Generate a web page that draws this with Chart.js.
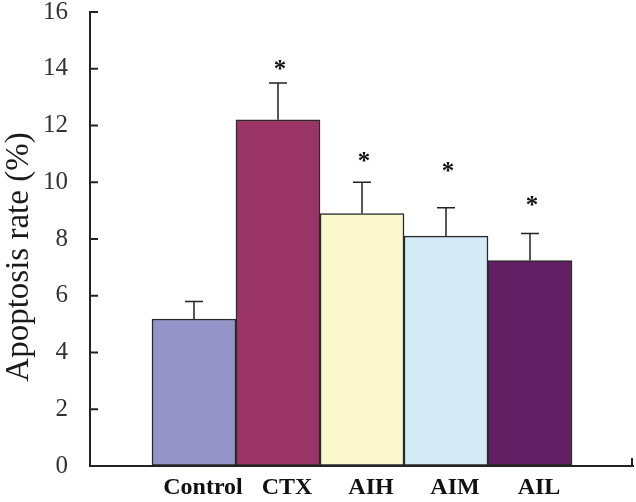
<!DOCTYPE html>
<html>
<head>
<meta charset="utf-8">
<script src="https://cdn.jsdelivr.net/npm/chart.js@4.4.1/dist/chart.umd.min.js"></script>
<style>
  html, body { margin: 0; padding: 0; background: #fff; }
</style>
</head>
<body>
<canvas id="myChart" width="636" height="502"></canvas>
<script>
// values
const groups = ['Control', 'CTX', 'AIH', 'AIM', 'AIL'];
const rates = [5.18, 12.2, 8.9, 8.1, 7.24];
const sd = [0.62, 1.3, 1.1, 1.0, 0.95];
const starAt = [null, 14.13, 10.89, 10.54, 9.34];
const yTicks = [0, 2, 4, 6, 8, 10, 12, 14, 16];
const yTitle = 'Apoptosis rate (%)';
const barColors = ['#9494c8', '#9a3366', '#faf8cc', '#d4eaf5', '#631f63'];

const ctx = document.getElementById('myChart').getContext('2d');

// error bars, inward ticks, stars and the y title
const extras = {
  id: 'extras',
  afterDatasetsDraw(chart) {
    const c = chart.ctx;
    const x = chart.scales.x;
    const y = chart.scales.y;
    const area = chart.chartArea;
    c.save();
    c.strokeStyle = '#222';
    c.lineWidth = 1.5;
    rates.forEach((v, i) => {
      const cx = x.getPixelForValue(i);
      const y0 = y.getPixelForValue(v);
      const y1 = y.getPixelForValue(v + sd[i]);
      c.beginPath();
      c.moveTo(cx, y0);
      c.lineTo(cx, y1);
      c.moveTo(cx - 9, y1);
      c.lineTo(cx + 9, y1);
      c.stroke();
    });
    c.lineWidth = 2;
    yTicks.forEach(t => {
      const py = y.getPixelForValue(t);
      c.beginPath();
      c.moveTo(area.left, py);
      c.lineTo(area.left + 8, py);
      c.stroke();
    });
    c.beginPath();
    c.moveTo(area.right - 1, area.bottom);
    c.lineTo(area.right - 1, area.bottom - 8);
    c.stroke();

    c.fillStyle = '#111';
    c.font = 'bold 25px "Liberation Serif"';
    c.textAlign = 'center';
    c.textBaseline = 'alphabetic';
    const m = c.measureText('*');
    starAt.forEach((s, i) => {
      if (s == null) return;
      const py = y.getPixelForValue(s);
      const base = py - (m.actualBoundingBoxDescent - m.actualBoundingBoxAscent) / 2;
      c.fillText('*', x.getPixelForValue(i) + 2, base);
    });

    // axis title sits a bit below the middle in the original
    c.translate(19, 257);
    c.rotate(-Math.PI / 2);
    c.fillStyle = '#1a1a1a';
    c.font = '33px "Liberation Serif"';
    c.textBaseline = 'middle';
    c.fillText(yTitle, 0, 0);
    c.restore();
  }
};

const data = {
  datasets: [{
    data: rates.map((v, i) => ({ x: i, y: v })),
    backgroundColor: barColors,
    borderColor: '#2a2a2a',
    borderWidth: 1.5,
    borderSkipped: false,
    barThickness: 84
  }]
};

const config = {
  type: 'bar',
  data: data,
  options: {
    responsive: false,
    animation: false,
    layout: { padding: { top: 12, right: 3, left: 0, bottom: 0 } },
    plugins: { legend: { display: false }, tooltip: { enabled: false } },
    scales: {
      x: {
        type: 'linear',
        offset: false,
        min: -1.238,
        max: 5.226,
        afterBuildTicks: s => { s.ticks = groups.map((g, i) => ({ value: i })); },
        afterFit: s => { s.height = 36; },
        grid: { display: false, drawTicks: false },
        border: { display: true, color: '#222', width: 2 },
        ticks: {
          callback: v => groups[v],
          autoSkip: false,
          maxRotation: 0,
          labelOffset: 9,
          padding: 7,
          color: '#111',
          font: { family: 'Liberation Serif', size: 24, weight: 'bold' }
        }
      },
      y: {
        min: 0,
        max: 16,
        afterFit: s => { s.width = 90; s.paddingTop = 0; s.paddingBottom = 0; },
        grid: { drawOnChartArea: false, drawTicks: false },
        border: { display: true, color: '#222', width: 2 },
        ticks: {
          stepSize: 2,
          padding: 22,
          color: '#333',
          font: { family: 'Liberation Serif', size: 25 }
        }
      }
    }
  },
  plugins: [extras]
};

const myChart = new Chart(ctx, config);
</script>
</body>
</html>
